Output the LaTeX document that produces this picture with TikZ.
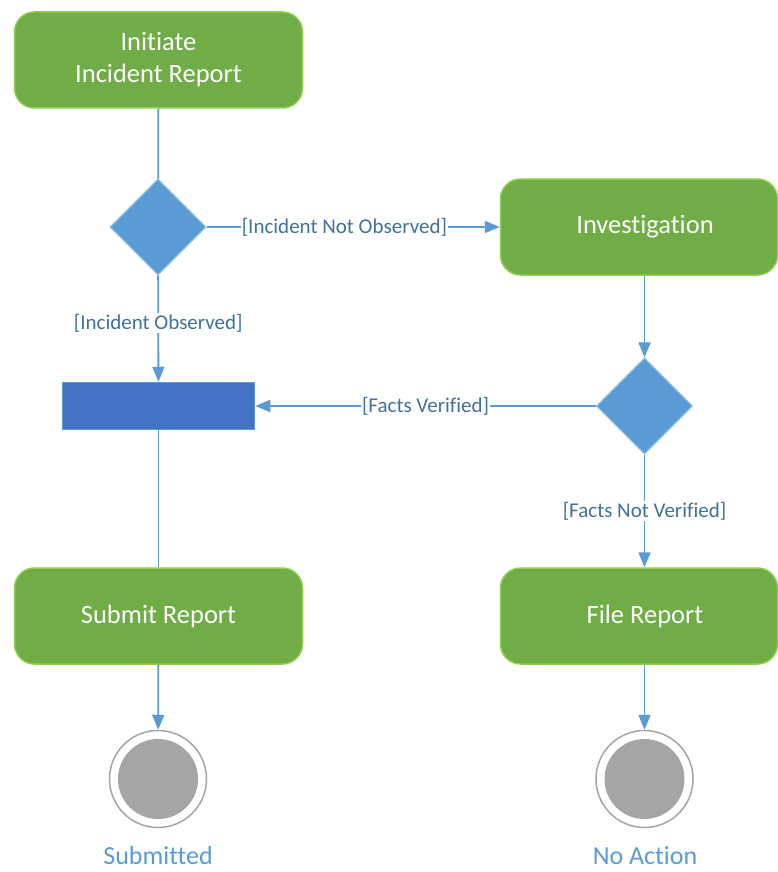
\documentclass[tikz,border=0pt]{standalone}
\usepackage{fontspec}
\setmainfont{Carlito}[Ligatures=NoCommon]
\usetikzlibrary{shapes.geometric,arrows.meta}
\definecolor{actG}{HTML}{70AD47}
\definecolor{actL}{HTML}{8FCF50}
\definecolor{decF}{HTML}{5B9BD5}
\definecolor{decL}{HTML}{8DBDE3}
\definecolor{barF}{HTML}{4472C4}
\definecolor{flowC}{HTML}{5B9BD5}
\definecolor{guardC}{HTML}{41719C}
\definecolor{endC}{HTML}{A5A5A5}
\tikzset{
  actS/.style  ={draw=actL, fill=actG, line width=1.5pt, rounded corners=20pt, text=white,
                 minimum height=96pt, align=center, font=\fontsize{26.5}{32}\selectfont},
  rightS/.style={minimum width=277pt, execute at begin node=\hspace*{12pt}},
  decS/.style  ={diamond, draw=decL, fill=decF, line width=1.2pt, minimum width=96pt,
                 minimum height=96pt, inner sep=0pt},
  barS/.style  ={draw=flowC, fill=barF, line width=1.5pt, minimum width=192pt, minimum height=47pt},
  endS/.style  ={circle, draw=endC, fill=white, line width=1.5pt, minimum size=97pt, inner sep=0pt,
                 path picture={\fill[endC] (path picture bounding box.center) circle (40pt);}},
  flowS/.style ={draw=flowC, line width=1.8pt},
  flowA/.style ={flowS, -{Triangle[length=15pt,width=12pt]}},
  guardS/.style={fill=white, text=guardC, inner sep=1pt, font=\fontsize{21}{24}\selectfont},
  stopS/.style ={text=flowC, inner sep=0pt, font=\fontsize{26}{28}\selectfont},
}
\begin{document}
\begin{tikzpicture}[x=1pt,y=-1pt]
  \useasboundingbox[fill=white] (0,0) rectangle (777,872);
  \node[actS, minimum width=288pt] (init) at (158.5,60) {Initiate\\Incident Report};
  \node[decS] (dec1) at (158,227) {};
  \node[actS, rightS] (inv) at (639,227) {Investigation};
  \node[barS] (bar) at (158.5,406) {};
  \node[decS] (dec2) at (644.5,406) {};
  \node[actS, minimum width=288pt] (submit) at (158.5,616) {Submit Report};
  \node[actS, rightS] (file) at (639,616) {File Report};
  \node[endS] (end1) at (158,779) {};
  \node[endS] (end2) at (644.5,779) {};
  \node[stopS] (lab1) at (158,856) {Submitted};
  \node[stopS] (lab2) at (645,856) {No Action};
  \draw[flowS] (init) -- (dec1);
  \draw[flowA] (dec1) -- node[guardS, pos=0.47]{[Incident Not Observed]} (inv);
  \draw[flowA] (dec1) -- node[guardS, pos=0.45]{[Incident Observed]} (bar);
  \draw[flowA] (inv.south -| dec2) -- (dec2);
  \draw[flowA] (dec2) -- node[guardS]{[Facts Verified]} (bar);
  \draw[flowA] (dec2) -- node[guardS]{[Facts Not Verified]} (file.north -| dec2);
  \draw[flowS] (bar) -- (submit);
  \draw[flowA] (submit) -- (end1);
  \draw[flowA] (file.south -| end2) -- (end2);
\end{tikzpicture}
\end{document}
